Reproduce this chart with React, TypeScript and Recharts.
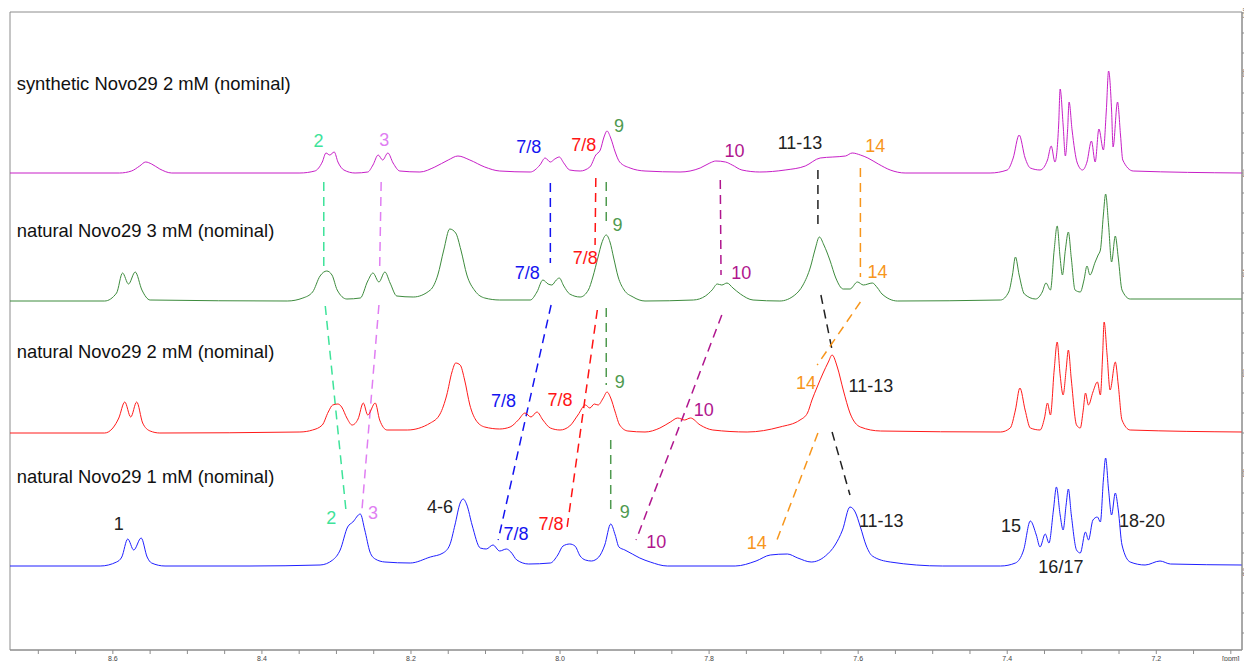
import React from "react";
import {
  ComposedChart,
  Line,
  XAxis,
  YAxis,
  ReferenceLine,
  ReferenceDot,
  ReferenceArea,
} from "recharts";

// Each trace: [chemical shift (ppm), intensity above its own baseline (rel)]
const synthetic2mM: [number, number][] = [
  [8.738, 0], [8.591, 0], [8.575, 0.004], [8.564, 0.014], [8.556, 0.022], [8.548, 0.018],
  [8.537, 0.008], [8.521, 0], [8.349, 0], [8.329, 0.004], [8.319, 0.022], [8.314, 0.04],
  [8.309, 0.036], [8.303, 0.042], [8.298, 0.022], [8.29, 0.006], [8.275, 0], [8.258, 0.002],
  [8.251, 0.016], [8.244, 0.036], [8.238, 0.026], [8.231, 0.04], [8.224, 0.02], [8.215, 0.004],
  [8.188, 0.002], [8.168, 0.012], [8.15, 0.026], [8.137, 0.034], [8.121, 0.026], [8.101, 0.012],
  [8.081, 0.004], [8.04, 0.002], [8.027, 0.016], [8.02, 0.03], [8.013, 0.022], [8.007, 0.028],
  [8.001, 0.032], [7.995, 0.02], [7.987, 0.006], [7.973, 0.004], [7.96, 0.012], [7.952, 0.036],
  [7.946, 0.046], [7.941, 0.072], [7.937, 0.084], [7.932, 0.07], [7.926, 0.042], [7.92, 0.022],
  [7.906, 0.01], [7.886, 0.004], [7.839, 0.002], [7.812, 0.01], [7.799, 0.02], [7.791, 0.024],
  [7.778, 0.022], [7.769, 0.016], [7.756, 0.006], [7.732, 0.002], [7.698, 0.006], [7.671, 0.014],
  [7.651, 0.03], [7.634, 0.032], [7.617, 0.034], [7.608, 0.04], [7.597, 0.036], [7.587, 0.03],
  [7.573, 0.018], [7.557, 0.006], [7.537, 0], [7.423, 0], [7.4, 0.006], [7.392, 0.03],
  [7.384, 0.076], [7.376, 0.03], [7.369, 0.01], [7.356, 0.006], [7.346, 0.026], [7.341, 0.054],
  [7.336, 0.022], [7.331, 0.096], [7.329, 0.168], [7.325, 0.096], [7.322, 0.034], [7.319, 0.086],
  [7.317, 0.142], [7.313, 0.086], [7.306, 0.02], [7.299, 0.006], [7.293, 0.022], [7.287, 0.064],
  [7.282, 0.022], [7.277, 0.088], [7.271, 0.046], [7.267, 0.126], [7.264, 0.204], [7.26, 0.126],
  [7.258, 0.052], [7.252, 0.142], [7.248, 0.076], [7.245, 0.026], [7.231, 0.004], [7.085, 0],
];

const natural3mM: [number, number][] = [
  [8.738, 0], [8.611, 0], [8.595, 0.016], [8.587, 0.056], [8.579, 0.034], [8.57, 0.058],
  [8.561, 0.022], [8.55, 0.002], [8.366, 0], [8.345, 0.006], [8.332, 0.018], [8.322, 0.05],
  [8.313, 0.06], [8.306, 0.052], [8.299, 0.022], [8.286, 0.004], [8.268, 0.006], [8.258, 0.04],
  [8.251, 0.056], [8.243, 0.038], [8.235, 0.058], [8.228, 0.036], [8.219, 0.01], [8.197, 0.008],
  [8.174, 0.022], [8.164, 0.052], [8.156, 0.102], [8.148, 0.144], [8.14, 0.136], [8.133, 0.102],
  [8.125, 0.052], [8.114, 0.02], [8.101, 0.006], [8.081, 0.002], [8.04, 0.002], [8.031, 0.018],
  [8.023, 0.042], [8.016, 0.034], [8.011, 0.032], [8.005, 0.042], [8.001, 0.046], [7.995, 0.03],
  [7.987, 0.014], [7.973, 0.008], [7.962, 0.022], [7.956, 0.048], [7.949, 0.088], [7.944, 0.116],
  [7.938, 0.132], [7.933, 0.118], [7.928, 0.086], [7.922, 0.048], [7.914, 0.022], [7.902, 0.008],
  [7.886, 0], [7.821, 0.002], [7.805, 0.01], [7.796, 0.022], [7.789, 0.034], [7.783, 0.032],
  [7.776, 0.036], [7.768, 0.026], [7.758, 0.014], [7.741, 0.002], [7.705, 0], [7.685, 0.012],
  [7.674, 0.032], [7.664, 0.068], [7.658, 0.102], [7.652, 0.128], [7.646, 0.112], [7.638, 0.082],
  [7.63, 0.046], [7.62, 0.024], [7.611, 0.024], [7.601, 0.038], [7.593, 0.032], [7.581, 0.036],
  [7.574, 0.026], [7.568, 0.014], [7.547, 0], [7.409, 0.002], [7.398, 0.018], [7.393, 0.052],
  [7.389, 0.088], [7.384, 0.052], [7.377, 0.014], [7.362, 0.004], [7.353, 0.018], [7.348, 0.036],
  [7.342, 0.022], [7.337, 0.102], [7.333, 0.15], [7.329, 0.086], [7.326, 0.052], [7.322, 0.102],
  [7.318, 0.138], [7.314, 0.086], [7.309, 0.022], [7.302, 0.018], [7.297, 0.042], [7.293, 0.07],
  [7.289, 0.052], [7.282, 0.078], [7.278, 0.092], [7.275, 0.102], [7.271, 0.172], [7.268, 0.214],
  [7.264, 0.152], [7.26, 0.078], [7.255, 0.13], [7.251, 0.086], [7.246, 0.022], [7.235, 0.004],
  [7.085, 0.004],
];

const natural2mM: [number, number][] = [
  [8.738, 0], [8.611, 0], [8.6, 0.01], [8.592, 0.03], [8.584, 0.062], [8.576, 0.032],
  [8.568, 0.062], [8.56, 0.02], [8.55, 0.004], [8.537, 0], [8.349, 0.002], [8.332, 0.006],
  [8.319, 0.016], [8.311, 0.042], [8.305, 0.056], [8.298, 0.058], [8.293, 0.052], [8.286, 0.03],
  [8.279, 0.016], [8.271, 0.028], [8.264, 0.06], [8.258, 0.036], [8.248, 0.06], [8.242, 0.026],
  [8.232, 0.006], [8.205, 0.006], [8.174, 0.02], [8.161, 0.038], [8.152, 0.076], [8.145, 0.122],
  [8.14, 0.14], [8.134, 0.136], [8.128, 0.106], [8.121, 0.056], [8.113, 0.026], [8.101, 0.012],
  [8.081, 0.008], [8.067, 0.012], [8.056, 0.026], [8.047, 0.04], [8.039, 0.032], [8.031, 0.042],
  [8.023, 0.026], [8.013, 0.01], [8.0, 0.006], [7.987, 0.014], [7.976, 0.036], [7.966, 0.056],
  [7.96, 0.05], [7.954, 0.058], [7.949, 0.056], [7.942, 0.07], [7.937, 0.082], [7.932, 0.07],
  [7.926, 0.042], [7.92, 0.016], [7.909, 0.004], [7.886, 0.002], [7.866, 0.01], [7.852, 0.022],
  [7.842, 0.03], [7.833, 0.026], [7.825, 0.03], [7.812, 0.016], [7.795, 0.006], [7.749, 0.002],
  [7.705, 0.012], [7.678, 0.026], [7.668, 0.04], [7.662, 0.066], [7.655, 0.092], [7.647, 0.12],
  [7.64, 0.142], [7.635, 0.156], [7.628, 0.132], [7.62, 0.086], [7.611, 0.04], [7.597, 0.012],
  [7.57, 0.004], [7.409, 0.002], [7.396, 0.01], [7.389, 0.046], [7.383, 0.09], [7.376, 0.046],
  [7.369, 0.01], [7.356, 0.006], [7.35, 0.03], [7.346, 0.06], [7.342, 0.036], [7.337, 0.126],
  [7.333, 0.182], [7.329, 0.116], [7.325, 0.076], [7.321, 0.126], [7.318, 0.166], [7.314, 0.106],
  [7.307, 0.016], [7.302, 0.01], [7.298, 0.046], [7.295, 0.08], [7.291, 0.056], [7.285, 0.082],
  [7.279, 0.102], [7.275, 0.076], [7.272, 0.156], [7.27, 0.222], [7.266, 0.156], [7.262, 0.086],
  [7.255, 0.142], [7.251, 0.096], [7.246, 0.026], [7.235, 0.006], [7.085, 0.002],
];

const natural1mM: [number, number][] = [
  [8.738, 0], [8.617, 0], [8.595, 0.008], [8.588, 0.018], [8.58, 0.054], [8.572, 0.032],
  [8.562, 0.056], [8.554, 0.018], [8.548, 0.006], [8.53, 0], [8.416, 0], [8.322, 0.002],
  [8.305, 0.012], [8.295, 0.032], [8.285, 0.078], [8.278, 0.088], [8.268, 0.104], [8.262, 0.072],
  [8.255, 0.028], [8.248, 0.014], [8.235, 0.008], [8.201, 0.006], [8.174, 0.018], [8.157, 0.026],
  [8.148, 0.042], [8.141, 0.082], [8.134, 0.126], [8.13, 0.134], [8.125, 0.122], [8.118, 0.082],
  [8.107, 0.036], [8.099, 0.034], [8.09, 0.042], [8.081, 0.03], [8.072, 0.034], [8.066, 0.028],
  [8.058, 0.012], [8.042, 0.004], [8.013, 0.006], [8.003, 0.022], [7.996, 0.04], [7.987, 0.044],
  [7.98, 0.04], [7.973, 0.02], [7.966, 0.012], [7.958, 0.01], [7.948, 0.018], [7.94, 0.042],
  [7.932, 0.084], [7.926, 0.062], [7.921, 0.038], [7.913, 0.032], [7.903, 0.024], [7.893, 0.016],
  [7.879, 0.008], [7.856, 0], [7.765, 0], [7.737, 0.01], [7.718, 0.022], [7.695, 0.024],
  [7.681, 0.016], [7.663, 0.008], [7.644, 0.02], [7.631, 0.042], [7.621, 0.072], [7.611, 0.118],
  [7.604, 0.108], [7.597, 0.078], [7.589, 0.04], [7.581, 0.02], [7.557, 0.008], [7.487, 0],
  [7.409, 0], [7.389, 0.006], [7.378, 0.032], [7.369, 0.09], [7.361, 0.062], [7.356, 0.038],
  [7.349, 0.064], [7.344, 0.046], [7.338, 0.112], [7.334, 0.158], [7.329, 0.102], [7.325, 0.072],
  [7.321, 0.122], [7.318, 0.154], [7.314, 0.102], [7.307, 0.032], [7.302, 0.026], [7.295, 0.068],
  [7.291, 0.052], [7.285, 0.092], [7.279, 0.098], [7.275, 0.088], [7.271, 0.172], [7.268, 0.216],
  [7.264, 0.152], [7.26, 0.102], [7.255, 0.146], [7.251, 0.112], [7.246, 0.042], [7.235, 0.008],
  [7.215, 0.002], [7.195, 0.01], [7.181, 0.004], [7.085, 0.002],
];

const sampleNames = [
  "synthetic Novo29 2 mM (nominal)",
  "natural Novo29 3 mM (nominal)",
  "natural Novo29 2 mM (nominal)",
  "natural Novo29 1 mM (nominal)",
];
const stackOffsets = [0.6, 0.344, 0.08, -0.186];
const nameLevels = [0.78, 0.486, 0.244, -0.006];
const traceColors = ["#c71fc7", "#3d8b3d", "#ff1a1a", "#1f1fff"];

const ppmTicks = [
  8.7, 8.65, 8.6, 8.55, 8.5, 8.45, 8.4, 8.35, 8.3, 8.25, 8.2, 8.15, 8.1, 8.05, 8.0, 7.95, 7.9,
  7.85, 7.8, 7.75, 7.7, 7.65, 7.6, 7.55, 7.5, 7.45, 7.4, 7.35, 7.3, 7.25, 7.2, 7.15, 7.1,
];
const ppmLabels: Record<string, string> = {
  "8.60": "8.6", "8.40": "8.4", "8.20": "8.2", "8.00": "8.0",
  "7.80": "7.8", "7.60": "7.6", "7.40": "7.4", "7.20": "7.2", "7.10": "[ppm]",
};
const relTicks = [
  -0.32, -0.28, -0.24, -0.2, -0.16, -0.12, -0.08, -0.04, 0, 0.04, 0.08, 0.12, 0.16, 0.2, 0.24,
  0.28, 0.32, 0.36, 0.4, 0.44, 0.48, 0.52, 0.56, 0.6, 0.64, 0.68, 0.72, 0.76, 0.8, 0.84, 0.88, 0.92,
];
const relLabels: Record<string, string> = {
  "-0.20": "-0.2", "0.00": "0.0", "0.20": "0.2", "0.40": "0.4",
  "0.60": "0.6", "0.80": "0.8", "0.92": "[rel]",
};

// assignment groups and their label colours
const groupColors: Record<string, string> = {
  black: "#222222",
  h2: "#3ee39a",
  h3: "#e07ef2",
  blue78: "#1414f0",
  red78: "#ff1414",
  h9: "#4f9a4f",
  h10: "#b0168e",
  h14: "#f7961c",
};

const peakLabels: { text: string; group: string; ppm: number; rel: number }[] = [
  // synthetic 2 mM
  { text: "2", group: "h2", ppm: 8.324, rel: 0.664 },
  { text: "3", group: "h3", ppm: 8.236, rel: 0.666 },
  { text: "7/8", group: "blue78", ppm: 8.042, rel: 0.652 },
  { text: "7/8", group: "red78", ppm: 7.968, rel: 0.656 },
  { text: "9", group: "h9", ppm: 7.921, rel: 0.694 },
  { text: "10", group: "h10", ppm: 7.766, rel: 0.644 },
  { text: "11-13", group: "black", ppm: 7.678, rel: 0.66 },
  { text: "14", group: "h14", ppm: 7.577, rel: 0.654 },
  // natural 3 mM
  { text: "9", group: "h9", ppm: 7.923, rel: 0.496 },
  { text: "7/8", group: "red78", ppm: 7.966, rel: 0.43 },
  { text: "7/8", group: "blue78", ppm: 8.044, rel: 0.4 },
  { text: "10", group: "h10", ppm: 7.757, rel: 0.4 },
  { text: "14", group: "h14", ppm: 7.574, rel: 0.402 },
  // natural 2 mM
  { text: "7/8", group: "blue78", ppm: 8.076, rel: 0.144 },
  { text: "7/8", group: "red78", ppm: 8.0, rel: 0.146 },
  { text: "9", group: "h9", ppm: 7.92, rel: 0.182 },
  { text: "10", group: "h10", ppm: 7.807, rel: 0.126 },
  { text: "14", group: "h14", ppm: 7.67, rel: 0.18 },
  { text: "11-13", group: "black", ppm: 7.583, rel: 0.174 },
  // natural 1 mM
  { text: "1", group: "black", ppm: 8.592, rel: -0.102 },
  { text: "2", group: "h2", ppm: 8.307, rel: -0.09 },
  { text: "3", group: "h3", ppm: 8.251, rel: -0.08 },
  { text: "4-6", group: "black", ppm: 8.161, rel: -0.068 },
  { text: "7/8", group: "blue78", ppm: 8.059, rel: -0.122 },
  { text: "7/8", group: "red78", ppm: 8.012, rel: -0.102 },
  { text: "9", group: "h9", ppm: 7.913, rel: -0.078 },
  { text: "10", group: "h10", ppm: 7.871, rel: -0.138 },
  { text: "14", group: "h14", ppm: 7.736, rel: -0.14 },
  { text: "11-13", group: "black", ppm: 7.569, rel: -0.096 },
  { text: "15", group: "black", ppm: 7.395, rel: -0.106 },
  { text: "16/17", group: "black", ppm: 7.328, rel: -0.188 },
  { text: "18-20", group: "black", ppm: 7.219, rel: -0.096 },
];

// dashed guides following each assignment from trace to trace
const connectors: { group: string; from: [number, number]; to: [number, number] }[] = [
  { group: "h2", from: [8.317, 0.582], to: [8.317, 0.41] },
  { group: "h2", from: [8.315, 0.334], to: [8.287, -0.078] },
  { group: "h3", from: [8.24, 0.582], to: [8.242, 0.41] },
  { group: "h3", from: [8.243, 0.336], to: [8.266, -0.078] },
  { group: "blue78", from: [8.013, 0.58], to: [8.013, 0.42] },
  { group: "blue78", from: [8.012, 0.336], to: [8.083, -0.134] },
  { group: "red78", from: [7.952, 0.59], to: [7.953, 0.456] },
  { group: "red78", from: [7.95, 0.326], to: [7.991, -0.114] },
  { group: "h9", from: [7.938, 0.582], to: [7.938, 0.494] },
  { group: "h9", from: [7.938, 0.33], to: [7.938, 0.176] },
  { group: "h9", from: [7.932, 0.066], to: [7.932, -0.084] },
  { group: "h10", from: [7.785, 0.586], to: [7.784, 0.396] },
  { group: "h10", from: [7.783, 0.316], to: [7.898, -0.134] },
  { group: "black", from: [7.654, 0.606], to: [7.654, 0.49] },
  { group: "black", from: [7.65, 0.356], to: [7.635, 0.246] },
  { group: "black", from: [7.635, 0.082], to: [7.611, -0.044] },
  { group: "h14", from: [7.597, 0.61], to: [7.597, 0.392] },
  { group: "h14", from: [7.597, 0.342], to: [7.655, 0.216] },
  { group: "h14", from: [7.654, 0.08], to: [7.709, -0.134] },
];

const PPM_DOMAIN: [number, number] = [7.085, 8.738];
const REL_DOMAIN: [number, number] = [-0.354, 0.922];
const AXIS_GREY = "#8c8c8c";
const FONT = "'Liberation Sans', Arial, sans-serif";

const traces = [synthetic2mM, natural3mM, natural2mM, natural1mM].map((pts, i) =>
  pts.map(([ppm, h]) => ({ ppm, v: h + stackOffsets[i] }))
);

const PpmTick = (props: any) => {
  const { x, y, payload } = props;
  const label = ppmLabels[Number(payload.value).toFixed(2)];
  if (!label) return <g />;
  return (
    <text x={x} y={y + 5} textAnchor="middle" fontSize={7} fill="#444" fontFamily={FONT}>
      {label}
    </text>
  );
};

// rotated labels, glyphs sit between the tick ends and the page edge
const RelTick = (props: any) => {
  const { x, y, payload } = props;
  const label = relLabels[Number(payload.value).toFixed(2)];
  if (!label) return <g />;
  const cx = x + 1;
  return (
    <text
      x={cx}
      y={y}
      transform={`rotate(-90 ${cx} ${y})`}
      textAnchor="middle"
      fontSize={6}
      fill="#444"
      fontFamily={FONT}
    >
      {label}
    </text>
  );
};

export default function App() {
  return (
    <div style={{ width: 1244, height: 653, fontFamily: FONT }}>
      <ComposedChart width={1244} height={653} margin={{ top: 4, right: 0, bottom: 0, left: 2 }}>
        <XAxis
          dataKey="ppm"
          type="number"
          domain={PPM_DOMAIN}
          reversed
          allowDataOverflow
          ticks={ppmTicks}
          interval={0}
          tickSize={4}
          height={11}
          stroke={AXIS_GREY}
          tick={PpmTick}
        />
        <YAxis
          orientation="right"
          type="number"
          domain={REL_DOMAIN}
          allowDataOverflow
          ticks={relTicks}
          interval={0}
          tickSize={3}
          tickMargin={1}
          width={10}
          stroke={AXIS_GREY}
          tick={RelTick}
        />
        <ReferenceArea
          x1={PPM_DOMAIN[1]}
          x2={PPM_DOMAIN[0]}
          y1={REL_DOMAIN[0]}
          y2={REL_DOMAIN[1]}
          fill="none"
          stroke={AXIS_GREY}
          strokeWidth={1}
        />
        {connectors.map((c, i) => (
          <ReferenceLine
            key={`guide-${i}`}
            segment={[
              { x: c.from[0], y: c.from[1] },
              { x: c.to[0], y: c.to[1] },
            ]}
            stroke={groupColors[c.group]}
            strokeWidth={1.5}
            strokeDasharray="9 6"
          />
        ))}
        {traces.map((rows, i) => (
          <Line
            key={sampleNames[i]}
            data={rows}
            dataKey="v"
            type="monotone"
            stroke={traceColors[i]}
            strokeWidth={1}
            dot={false}
            isAnimationActive={false}
          />
        ))}
        {sampleNames.map((name, i) => (
          <ReferenceDot
            key={name}
            x={8.729}
            y={nameLevels[i]}
            r={0}
            fill="none"
            stroke="none"
            label={{ value: name, position: "right", offset: 0, fill: "#111", fontSize: 18.4 }}
          />
        ))}
        {peakLabels.map((p, i) => (
          <ReferenceDot
            key={`peak-${i}`}
            x={p.ppm}
            y={p.rel}
            r={0}
            fill="none"
            stroke="none"
            label={{ value: p.text, position: "center", fill: groupColors[p.group], fontSize: 18 }}
          />
        ))}
      </ComposedChart>
    </div>
  );
}
